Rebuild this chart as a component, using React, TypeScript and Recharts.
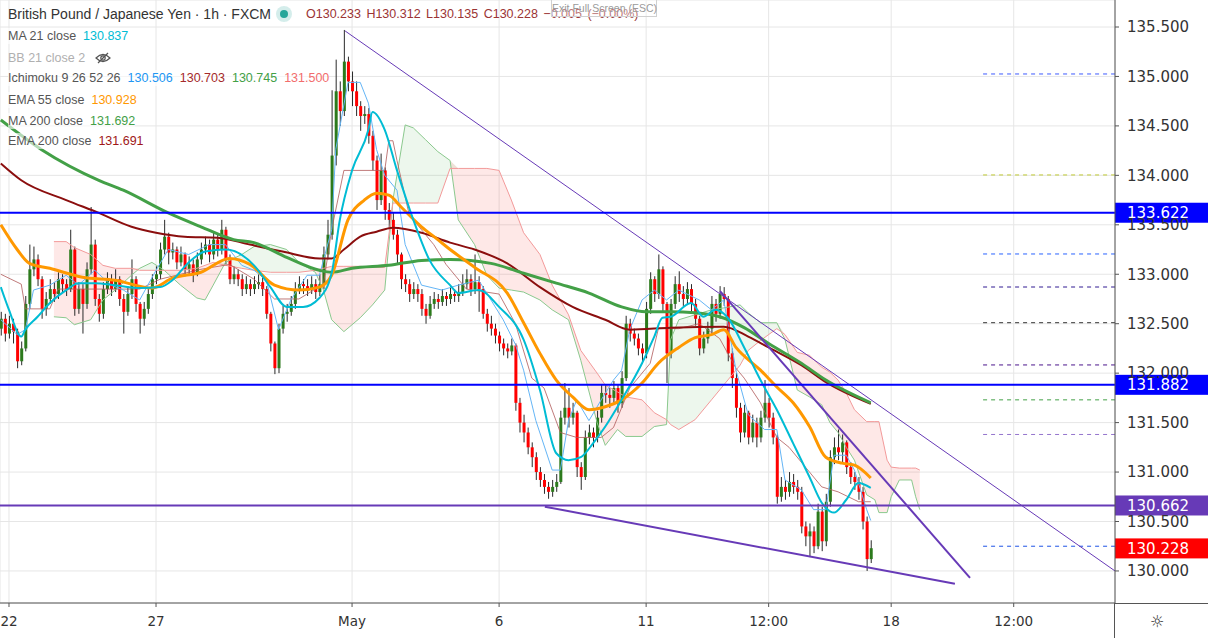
import React from 'react';
import { ComposedChart, Bar, Line, Area, XAxis, YAxis, CartesianGrid, ReferenceLine } from 'recharts';

const W = 1208;
const H = 638;
const AXIS_W = 93;
const AXIS_H = 35;
const FONT = "'Liberation Sans', Arial, sans-serif";
const AXIS_FONT = "'DejaVu Sans', Verdana, sans-serif";

// 2-hour candles as [high, low, close]; each open is the previous close
const firstOpen = 132.45;
const apr21to24 = [
  [132.62, 132.38, 132.55], [132.6, 132.32, 132.4], [132.58, 132.35, 132.5], [132.55, 132.3, 132.42],
  [132.45, 132.05, 132.12], [132.32, 132.08, 132.25], [132.78, 132.22, 132.7], [133.3, 132.65, 133.05],
  [133.28, 132.98, 133.15], [133.2, 132.88, 132.95], [132.98, 132.55, 132.65], [132.82, 132.58, 132.75],
  [132.95, 132.7, 132.85], [132.92, 132.72, 132.8], [133.02, 132.75, 132.95], [133.0, 132.82, 132.9],
  [132.95, 132.78, 132.85], [133.45, 132.82, 133.25], [133.28, 132.58, 132.65], [132.92, 132.6, 132.85],
  [132.9, 132.4, 132.7], [133.12, 132.65, 133.05], [133.68, 133.0, 133.3], [133.35, 132.68, 132.75],
  [132.8, 132.52, 132.6], [132.92, 132.55, 132.85], [133.02, 132.8, 132.95], [133.0, 132.78, 132.85],
  [133.05, 132.82, 132.95], [132.98, 132.68, 132.75], [132.8, 132.4, 132.62], [132.88, 132.58, 132.8],
  [133.15, 132.75, 132.95], [132.98, 132.62, 132.7], [132.72, 132.4, 132.55], [132.72, 132.48, 132.65],
  [132.85, 132.6, 132.8], [133.0, 132.75, 132.95],
];
const apr27toMay1 = [
  [133.08, 132.9, 133.0], [133.32, 132.95, 133.25], [133.55, 133.2, 133.38], [133.42, 133.1, 133.22],
  [133.32, 133.15, 133.25], [133.28, 133.05, 133.12], [133.28, 133.08, 133.2], [133.22, 132.98, 133.05],
  [133.18, 133.0, 133.1], [133.15, 132.92, 133.0], [133.22, 132.98, 133.15], [133.32, 133.1, 133.25],
  [133.38, 133.2, 133.3], [133.35, 133.12, 133.2], [133.42, 133.15, 133.35], [133.4, 133.18, 133.25],
  [133.55, 133.2, 133.45], [133.48, 133.1, 133.15], [133.2, 132.9, 132.95], [133.08, 132.9, 133.0],
  [133.05, 132.88, 132.95], [133.0, 132.78, 132.85], [132.98, 132.8, 132.9], [132.95, 132.78, 132.85],
  [132.98, 132.8, 132.9], [133.0, 132.85, 132.92], [132.98, 132.78, 132.85], [132.88, 132.55, 132.6],
  [132.62, 132.22, 132.3], [132.32, 131.99, 132.05], [132.5, 132.0, 132.45], [132.68, 132.4, 132.6],
  [132.7, 132.52, 132.62], [132.78, 132.58, 132.7], [132.92, 132.65, 132.85], [132.98, 132.8, 132.9],
  [132.95, 132.8, 132.88], [132.95, 132.78, 132.85], [132.98, 132.8, 132.9], [132.95, 132.75, 132.82],
  [133.0, 132.78, 132.9], [133.28, 132.85, 133.2], [133.55, 133.15, 133.4], [134.86, 133.35, 134.2],
  [135.17, 134.1, 134.85], [134.95, 134.5, 134.65], [135.47, 134.6, 135.15], [135.2, 134.85, 134.95],
  [135.05, 134.7, 134.85], [134.95, 134.6, 134.7], [134.75, 134.45, 134.6], [134.7, 134.52, 134.62],
  [134.68, 134.32, 134.4], [134.45, 134.05, 134.15], [134.2, 133.65, 133.75], [134.22, 133.7, 134.05],
  [134.08, 133.55, 133.65], [133.72, 133.45, 133.55], [133.62, 133.35, 133.4], [133.45, 133.1, 133.2],
];
const may4to8 = [
  [133.22, 132.85, 132.95], [133.0, 132.82, 132.9], [132.95, 132.72, 132.8], [132.92, 132.75, 132.85],
  [132.9, 132.72, 132.8], [132.85, 132.58, 132.65], [132.7, 132.5, 132.58], [132.78, 132.55, 132.7],
  [132.82, 132.65, 132.75], [132.8, 132.65, 132.72], [132.85, 132.68, 132.78], [132.82, 132.68, 132.75],
  [132.88, 132.7, 132.8], [132.85, 132.72, 132.78], [132.9, 132.72, 132.82], [133.0, 132.78, 132.9],
  [133.05, 132.85, 132.95], [133.0, 132.78, 132.85], [133.2, 132.8, 132.92], [132.98, 132.62, 132.85],
  [132.88, 132.55, 132.6], [132.65, 132.42, 132.5], [132.58, 132.38, 132.45], [132.5, 132.3, 132.38],
  [132.42, 132.22, 132.3], [132.35, 132.18, 132.25], [132.3, 132.15, 132.22], [132.35, 132.18, 132.28],
  [132.3, 131.62, 131.7], [131.75, 131.4, 131.5], [131.58, 131.3, 131.4], [131.45, 131.18, 131.25],
  [131.3, 131.05, 131.15], [131.2, 130.92, 131.0], [131.05, 130.85, 130.92], [130.98, 130.78, 130.85],
  [130.9, 130.73, 130.8], [130.92, 130.75, 130.85], [130.98, 130.8, 130.9], [131.62, 130.88, 131.55],
  [131.9, 131.48, 131.65], [131.85, 131.45, 131.55], [131.7, 131.48, 131.6], [131.62, 130.95, 131.05],
  [131.1, 130.82, 130.95], [131.42, 130.92, 131.35], [131.48, 131.28, 131.4], [131.45, 131.25, 131.35],
  [131.62, 131.3, 131.55], [131.88, 131.5, 131.8], [131.88, 131.7, 131.78], [131.85, 131.65, 131.75],
  [131.92, 131.7, 131.85], [131.88, 131.6, 131.7], [132.02, 131.65, 131.95], [132.58, 131.92, 132.5],
  [132.55, 132.32, 132.4], [132.45, 132.28, 132.35], [132.4, 132.18, 132.25], [132.3, 132.1, 132.2],
];
const may11to15 = [
  [132.72, 132.15, 132.65], [133.02, 132.6, 132.95], [132.98, 132.72, 132.8], [133.2, 132.75, 133.05],
  [133.08, 132.62, 132.7], [132.72, 131.9, 132.2], [132.75, 132.15, 132.7], [132.98, 132.65, 132.9],
  [133.03, 132.72, 132.8], [132.88, 132.68, 132.75], [132.92, 132.7, 132.85], [132.9, 132.62, 132.7],
  [132.75, 132.48, 132.55], [132.58, 132.18, 132.25], [132.42, 132.2, 132.35], [132.52, 132.3, 132.45],
  [132.78, 132.4, 132.7], [132.75, 132.52, 132.6], [132.88, 132.55, 132.8], [132.87, 132.68, 132.75],
  [132.78, 132.12, 132.2], [132.25, 131.85, 131.95], [132.0, 131.55, 131.65], [131.7, 131.3, 131.4],
  [131.68, 131.35, 131.6], [131.62, 131.28, 131.35], [131.58, 131.3, 131.5], [131.55, 131.25, 131.35],
  [131.62, 131.3, 131.55], [131.93, 131.5, 131.7], [131.75, 131.45, 131.55], [131.6, 131.28, 131.35],
  [131.38, 130.68, 130.75], [130.95, 130.7, 130.85], [130.92, 130.72, 130.8], [131.0, 130.75, 130.9],
  [130.98, 130.78, 130.85], [130.92, 130.72, 130.8], [130.85, 130.38, 130.45], [130.5, 130.25, 130.35],
  [130.48, 130.14, 130.4], [130.45, 130.18, 130.25], [130.68, 130.22, 130.6], [130.65, 130.2, 130.3],
  [130.78, 130.25, 130.7], [131.22, 130.65, 131.15], [131.35, 131.08, 131.25], [131.43, 131.12, 131.2],
  [131.38, 131.1, 131.3], [131.32, 130.98, 131.05], [131.1, 130.88, 130.95], [131.0, 130.82, 130.9],
  [130.95, 130.72, 130.8], [130.85, 130.42, 130.5], [130.55, 130.0, 130.12], [130.31, 130.08, 130.23],
];

// indicator readings as [bar index, price]
const ma21 = [
  [0, 132.87], [2, 132.64], [5, 132.37], [6, 132.44], [9, 132.57], [12, 132.71], [16, 132.84], [19, 132.91],
  [23, 132.91], [28, 132.89], [34, 132.86], [39, 132.87], [42, 132.94], [46, 133.12], [50, 133.23], [55, 133.25],
  [62, 133.09], [66, 132.87], [70, 132.67], [74, 132.67], [78, 132.76], [81, 133.01], [83, 133.55], [86, 134.05],
  [90, 134.46], [91, 134.64], [94, 134.46], [97, 134.05], [101, 133.55], [105, 133.14], [110, 132.89], [112, 132.81],
  [117, 132.84], [122, 132.67], [128, 132.34], [132, 131.83], [136, 131.19], [139, 131.12], [142, 131.15], [145, 131.29],
  [148, 131.46], [152, 131.73], [157, 132.1], [160, 132.37], [162, 132.56], [164, 132.57], [169, 132.71], [172, 132.57],
  [175, 132.64], [178, 132.56], [182, 132.26], [186, 131.93], [190, 131.63], [194, 131.29], [198, 130.95], [201, 130.69],
  [204, 130.59], [207, 130.72], [210, 130.89], [213, 130.84],
];
const ema55 = [
  [0, 133.5], [4, 133.25], [7, 133.11], [12, 133.06], [20, 132.97], [28, 132.94], [37, 132.86], [42, 132.96],
  [49, 133.02], [56, 133.16], [61, 133.1], [67, 132.89], [73, 132.84], [78, 132.87], [81, 132.99], [85, 133.55],
  [89, 133.75], [92, 133.82], [95, 133.8], [98, 133.68], [103, 133.48], [107, 133.35], [110, 133.25], [116, 133.07],
  [124, 132.81], [128, 132.51], [132, 132.2], [136, 131.93], [140, 131.76], [144, 131.63], [148, 131.66], [152, 131.73],
  [157, 131.9], [161, 132.1], [166, 132.26], [170, 132.36], [174, 132.39], [177, 132.44], [180, 132.26], [186, 132.03],
  [190, 131.86], [194, 131.7], [198, 131.46], [202, 131.15], [206, 131.09], [209, 131.07], [213, 130.94],
];
const ma200 = [
  [0, 134.56], [10, 134.26], [24, 133.95], [30, 133.85], [41, 133.62], [49, 133.48], [57, 133.35], [62, 133.32],
  [70, 133.17], [78, 133.04], [81, 133.02], [86, 133.06], [95, 133.09], [103, 133.14], [110, 133.15], [120, 133.11],
  [128, 133.01], [136, 132.91], [144, 132.81], [152, 132.67], [158, 132.62], [164, 132.62], [170, 132.61], [176, 132.57],
  [182, 132.46], [188, 132.3], [196, 132.1], [202, 131.93], [213, 131.7],
];
const ema200 = [
  [0, 134.12], [5, 133.95], [16, 133.75], [24, 133.62], [32, 133.48], [38, 133.42], [45, 133.38], [53, 133.37],
  [61, 133.3], [69, 133.23], [78, 133.16], [81, 133.16], [84, 133.25], [88, 133.38], [92, 133.43], [96, 133.47],
  [103, 133.42], [110, 133.32], [116, 133.25], [124, 133.11], [132, 132.87], [140, 132.67], [148, 132.54], [154, 132.44],
  [164, 132.46], [177, 132.47], [183, 132.37], [188, 132.26], [196, 132.08], [202, 131.91], [213, 131.69],
];
const tenkan = [
  [0, 132.54], [4, 132.39], [6, 132.44], [8, 132.84], [12, 132.89], [16, 132.99], [19, 132.89], [23, 133.04],
  [27, 132.89], [30, 132.84], [34, 132.74], [38, 133.04], [41, 133.25], [46, 133.2], [51, 133.3], [55, 133.3],
  [59, 133.09], [62, 133.04], [65, 132.94], [68, 132.44], [71, 132.74], [75, 132.99], [78, 132.99], [81, 133.45],
  [82, 134.26], [85, 134.94], [88, 134.94], [90, 134.73], [92, 134.26], [94, 134.0], [97, 133.85], [99, 133.3],
  [103, 132.89], [108, 132.84], [112, 132.89], [117, 132.94], [120, 132.74], [123, 132.54], [126, 132.29], [128, 132.03],
  [131, 131.52], [135, 131.02], [137, 131.02], [139, 131.52], [141, 131.73], [144, 131.52], [147, 131.73], [150, 131.93],
  [152, 132.03], [154, 132.44], [157, 132.74], [160, 132.84], [163, 132.74], [166, 132.84], [171, 132.74], [174, 132.64],
  [177, 132.74], [180, 132.03], [183, 131.58], [187, 131.43], [190, 131.43], [192, 130.92], [196, 130.82], [199, 130.62],
  [202, 130.62], [204, 131.17], [207, 131.17], [209, 131.02], [212, 130.62], [213, 130.51],
];
const kijun = [
  [0, 133.0], [5, 132.9], [6, 132.65], [12, 132.65], [14, 132.85], [34, 132.85], [39, 132.95], [49, 133.05],
  [56, 133.1], [62, 132.95], [67, 132.75], [73, 132.75], [79, 132.9], [81, 133.45], [84, 134.05], [94, 134.05],
  [95, 134.35], [96, 134.35], [97, 134.15], [100, 133.6], [106, 133.3], [109, 133.1], [114, 132.85], [122, 132.8],
  [126, 132.5], [130, 131.95], [133, 131.85], [137, 131.4], [141, 131.35], [147, 131.35], [150, 131.45], [154, 131.85],
  [159, 132.1], [161, 132.45], [166, 132.45], [171, 132.5], [176, 132.35], [180, 132.05], [182, 131.95], [186, 131.7],
  [190, 131.35], [193, 131.25], [197, 131.05], [201, 130.85], [205, 130.8], [210, 130.7], [213, 130.7],
];
// ichimoku cloud as [bar index, lead A, lead B]
const cloudSpans = [
  [13, 132.57, 133.33], [16, 132.56, 133.33], [18, 132.49, 133.27], [22, 132.54, 133.2], [25, 132.74, 133.09],
  [28, 132.84, 133.06], [32, 132.99, 133.06], [34, 133.06, 133.04], [37, 133.12, 133.04], [40, 133.04, 133.04],
  [44, 132.89, 133.04], [48, 132.76, 133.06], [50, 132.74, 133.09], [52, 132.89, 133.12], [55, 133.12, 133.09],
  [59, 133.2, 133.06], [62, 133.28, 133.04], [66, 133.3, 133.02], [70, 133.25, 133.02], [73, 133.12, 133.02],
  [77, 133.02, 133.04], [79, 132.84, 133.06], [81, 132.54, 133.08], [84, 132.42, 133.08], [88, 132.56, 133.08],
  [91, 132.69, 133.07], [94, 132.84, 133.07], [96, 133.75, 133.72], [99, 134.51, 133.72], [101, 134.48, 133.72],
  [104, 134.36, 133.72], [107, 134.24, 133.72], [110, 134.15, 134.07], [112, 133.55, 134.07], [116, 133.3, 134.07],
  [119, 132.99, 134.07], [122, 132.86, 134.05], [125, 132.84, 133.75], [128, 132.82, 133.42], [132, 132.74, 133.2],
  [135, 132.64, 132.89], [139, 132.54, 132.59], [142, 132.13, 132.23], [146, 131.5, 132.0], [148, 131.27, 131.88],
  [151, 131.43, 131.81], [153, 131.36, 131.76], [157, 131.36, 131.73], [160, 131.46, 131.6], [163, 131.48, 131.53],
  [164, 132.34, 131.48], [166, 132.54, 131.43], [170, 132.59, 131.53], [174, 132.64, 131.73], [177, 132.66, 131.88],
  [181, 132.69, 132.08], [183, 132.61, 132.23], [186, 132.51, 132.33], [190, 132.51, 132.45], [192, 132.34, 132.39],
  [195, 131.83, 132.21], [198, 131.76, 132.18], [201, 131.68, 132.06], [203, 131.5, 132.01], [205, 131.4, 131.93],
  [207, 131.25, 131.8], [209, 131.12, 131.63], [212, 130.77, 131.51], [214, 130.72, 131.51], [215, 130.59, 131.51],
  [217, 130.59, 131.12], [218, 130.75, 131.05], [220, 130.92, 131.04], [223, 130.92, 131.04], [224, 130.75, 131.04],
  [225, 130.62, 131.02],
];

const dayTicks = [2, 38, 86, 122, 158, 188, 218, 248];
const dayLabels = ['22', '27', 'May', '6', '11', '12:00', '18', '12:00'];
const priceTicks = [130, 130.5, 131, 131.5, 132, 132.5, 133, 133.5, 134, 134.5, 135, 135.5];
const xDomain = [-0.2, 272.8];
const yDomain = [129.676, 135.773];

const blueLevels = [133.622, 131.882];
const purpleLevel = 130.662;
const lastPrice = 130.228;
const sideLevels = [135.025, 134.004, 133.205, 132.871, 132.51, 132.083, 131.73, 131.38, 130.25];
const sideLevelStart = 240.5;
const sideColors = ['#3d5afe', '#c0ca33', '#2962ff', '#311b92', '#333333', '#4a148c', '#43a047', '#9575cd', '#1e53e5'];
const trendLines = [
  { from: [84.3, 135.46], to: [272.8, 130.0], width: 1 },
  { from: [176.1, 132.83], to: [237.3, 129.93], width: 2 },
  { from: [133.2, 130.65], to: [233.6, 129.87], width: 2 },
];

const hlc = [...apr21to24, ...apr27toMay1, ...may4to8, ...may11to15];
const candles = hlc.map(([h, l, c], k) => ({
  k,
  o: k === 0 ? firstOpen : hlc[k - 1][2],
  h,
  l,
  c,
  range: [l, h],
}));
const pts = (arr: number[][]) => arr.map(([k, v]) => ({ k, v }));
const cloudRows = cloudSpans.map(([k, a, b]) => ({
  k,
  a,
  b,
  bull: [b, Math.max(a, b)],
  bear: [a, Math.max(a, b)],
}));

function Candle(props: any) {
  const { x, y, width, height, payload } = props;
  if (!payload) return null;
  const { o, h, l, c } = payload;
  const cx = x + width / 2;
  const py = (p: number) => (h === l ? y : y + ((h - p) / (h - l)) * height);
  const top = py(Math.max(o, c));
  const bot = py(Math.min(o, c));
  return (
    <g>
      <line x1={cx} x2={cx} y1={y} y2={y + height} stroke="#2a2a2a" strokeWidth={1} />
      <rect x={x} y={top} width={width} height={Math.max(1, bot - top)} fill={c >= o ? '#2c7a1c' : '#ff0000'} />
    </g>
  );
}

function PriceTag(props: any) {
  const vb = props.viewBox;
  if (!vb) return null;
  const x = vb.x + vb.width;
  return (
    <g>
      <rect x={x} y={vb.y - 10} width={AXIS_W} height={20} fill={props.bg} />
      <text x={x + 12} y={vb.y} dy="0.36em" textAnchor="start" fill="#fff" fontSize={15} fontFamily={AXIS_FONT}>
        {props.price.toFixed(3)}
      </text>
    </g>
  );
}

function EyeOff() {
  return (
    <svg width={16} height={12} viewBox="0 0 16 12" style={{ marginLeft: 2 }}>
      <path d="M1 6 Q8 -1 15 6 Q8 13 1 6 Z" fill="none" stroke="#555" strokeWidth={1.2} />
      <circle cx={8} cy={6} r={2.2} fill="none" stroke="#555" strokeWidth={1.2} />
      <line x1={3} y1={11} x2={13} y2={1} stroke="#555" strokeWidth={1.2} />
    </svg>
  );
}

const legendRows = [
  { top: 28, label: 'MA 21 close', values: [['130.837', '#00bcd4']] },
  { top: 70, label: 'Ichimoku 9 26 52 26', values: [['130.506', '#2196f3'], ['130.703', '#a52a2a'], ['130.745', '#43a047'], ['131.500', '#f26d6d']] },
  { top: 92, label: 'EMA 55 close', values: [['130.928', '#ff9800']] },
  { top: 113, label: 'MA 200 close', values: [['131.692', '#43a047']] },
  { top: 133, label: 'EMA 200 close', values: [['131.691', '#a01818']] },
];

export default function App() {
  return (
    <div style={{ position: 'absolute', left: 0, top: 0, width: W, height: H, background: '#fff', fontFamily: FONT, overflow: 'hidden' }}>
      <ComposedChart width={W} height={H} data={candles} margin={{ top: 0, right: 0, bottom: 0, left: 0 }}>
        <CartesianGrid stroke="#e6e6e6" />
        <XAxis
          dataKey="k"
          type="number"
          domain={xDomain}
          allowDataOverflow
          ticks={dayTicks}
          tickFormatter={(v: number) => dayLabels[dayTicks.indexOf(v)]}
          height={AXIS_H}
          tickSize={4}
          tickMargin={9}
          stroke="#555"
          tick={{ fill: '#333', fontSize: 13.5, fontFamily: AXIS_FONT }}
        />
        <YAxis
          orientation="right"
          type="number"
          domain={yDomain}
          allowDataOverflow
          ticks={priceTicks}
          tickFormatter={(v: number) => v.toFixed(3)}
          width={AXIS_W}
          tickSize={4}
          tickMargin={8}
          stroke="#555"
          tick={{ fill: '#333', fontSize: 15, fontFamily: AXIS_FONT }}
        />
        <Area data={cloudRows} dataKey="bull" type="linear" stroke="none" fill="#4caf50" fillOpacity={0.1} dot={false} activeDot={false} isAnimationActive={false} />
        <Area data={cloudRows} dataKey="bear" type="linear" stroke="none" fill="#f44336" fillOpacity={0.12} dot={false} activeDot={false} isAnimationActive={false} />
        <Line data={cloudRows} dataKey="a" type="linear" stroke="#8bc98e" strokeWidth={1} dot={false} activeDot={false} isAnimationActive={false} />
        <Line data={cloudRows} dataKey="b" type="linear" stroke="#f39a9a" strokeWidth={1} dot={false} activeDot={false} isAnimationActive={false} />
        <Line data={pts(kijun)} dataKey="v" type="linear" stroke="#b05a5a" strokeOpacity={0.8} strokeWidth={1} dot={false} activeDot={false} isAnimationActive={false} />
        <Line data={pts(tenkan)} dataKey="v" type="linear" stroke="#64b5f6" strokeWidth={1} dot={false} activeDot={false} isAnimationActive={false} />
        <Bar dataKey="range" barSize={3} shape={<Candle />} isAnimationActive={false} />
        <Line data={pts(ema200)} dataKey="v" type="monotone" stroke="#8b0e0e" strokeWidth={2} dot={false} activeDot={false} isAnimationActive={false} />
        <Line data={pts(ma200)} dataKey="v" type="monotone" stroke="#43a047" strokeWidth={3} dot={false} activeDot={false} isAnimationActive={false} />
        <Line data={pts(ema55)} dataKey="v" type="monotone" stroke="#ff9800" strokeWidth={3} dot={false} activeDot={false} isAnimationActive={false} />
        <Line data={pts(ma21)} dataKey="v" type="monotone" stroke="#00bcd4" strokeWidth={2} dot={false} activeDot={false} isAnimationActive={false} />
        {sideLevels.map((lv, i) => (
          <ReferenceLine
            key={'s' + i}
            segment={[{ x: sideLevelStart, y: lv }, { x: xDomain[1], y: lv }]}
            stroke={sideColors[i]}
            strokeDasharray="4 4"
            strokeWidth={1}
            ifOverflow="hidden"
          />
        ))}
        {trendLines.map((t, i) => (
          <ReferenceLine
            key={'t' + i}
            segment={[{ x: t.from[0], y: t.from[1] }, { x: t.to[0], y: t.to[1] }]}
            stroke="#673ab7"
            strokeWidth={t.width}
            ifOverflow="hidden"
          />
        ))}
        {blueLevels.map((lv) => (
          <ReferenceLine key={'b' + lv} y={lv} stroke="#0000ff" strokeWidth={2} label={<PriceTag bg="#0000ff" price={lv} />} />
        ))}
        <ReferenceLine y={purpleLevel} stroke="#673ab7" strokeWidth={2} label={<PriceTag bg="#673ab7" price={purpleLevel} />} />
        <ReferenceLine y={lastPrice} stroke="none" strokeOpacity={0} label={<PriceTag bg="#ff0000" price={lastPrice} />} />
      </ComposedChart>

      {/* axis borders running into the corner */}
      <div style={{ position: 'absolute', left: W - AXIS_W, top: H - AXIS_H, width: AXIS_W, height: 1, background: '#555' }} />
      <div style={{ position: 'absolute', left: W - AXIS_W - 1, top: H - AXIS_H, width: 1, height: AXIS_H, background: '#555' }} />
      <div style={{ position: 'absolute', left: 1150, top: 612, fontSize: 16, color: '#333', fontFamily: AXIS_FONT }}>☼</div>

      {/* header */}
      <div style={{ position: 'absolute', left: 8, top: 6, fontSize: 14, color: '#333', whiteSpace: 'nowrap' }}>
        British Pound / Japanese Yen · 1h · FXCM
      </div>
      <div style={{ position: 'absolute', left: 276, top: 6, width: 16, height: 16, borderRadius: 8, background: 'rgba(38,166,154,0.2)' }} />
      <div style={{ position: 'absolute', left: 280, top: 10, width: 8, height: 8, borderRadius: 4, background: '#26a69a' }} />
      <div style={{ position: 'absolute', left: 306, top: 7, fontSize: 12.5, color: '#9b3434', whiteSpace: 'nowrap', wordSpacing: 2 }}>
        O130.233 H130.312 L130.135 C130.228 −0.005 (−0.00%)
      </div>
      <div style={{ position: 'absolute', left: 551, top: -1, width: 104, height: 16, border: '1px solid #d0d0d0', background: 'rgba(255,255,255,0.35)', fontSize: 10.5, color: '#9a9a9a', textAlign: 'center', lineHeight: '16px', whiteSpace: 'nowrap' }}>
        Exit Full Screen (ESC)
      </div>

      {/* legend */}
      {legendRows.map((r) => (
        <div key={r.label} style={{ position: 'absolute', left: 8, top: r.top, fontSize: 12.5, lineHeight: '16px', whiteSpace: 'nowrap', color: '#555', background: 'rgba(255,255,255,0.6)' }}>
          {r.label}
          {r.values.map(([v, c]) => (
            <span key={v + c} style={{ color: c, marginLeft: 7 }}>{v}</span>
          ))}
        </div>
      ))}
      <div style={{ position: 'absolute', left: 8, top: 50, fontSize: 12.5, lineHeight: '16px', color: '#b0b0b0', display: 'flex', alignItems: 'center', whiteSpace: 'nowrap' }}>
        BB 21 close 2
        <span style={{ marginLeft: 8, display: 'inline-flex' }}><EyeOff /></span>
      </div>
    </div>
  );
}
